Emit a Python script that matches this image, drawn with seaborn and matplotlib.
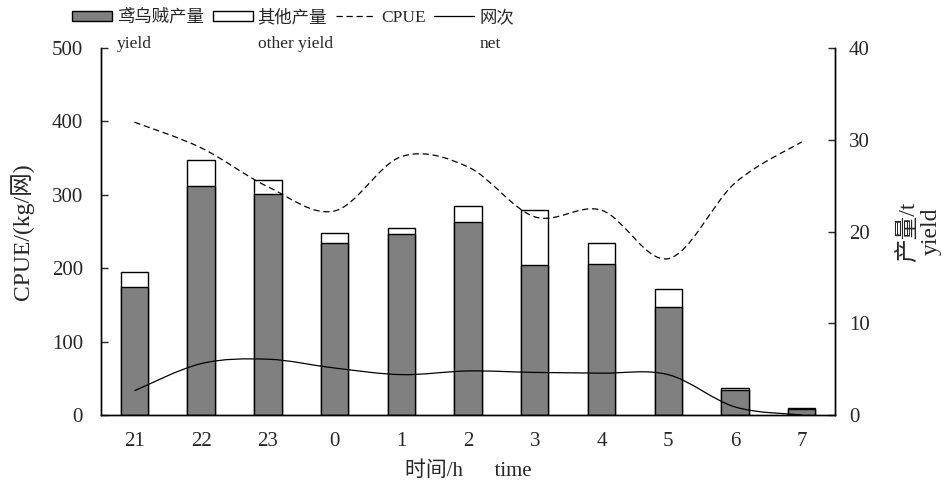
import numpy as np
import matplotlib
matplotlib.use("Agg")
import matplotlib.pyplot as plt
import seaborn as sns
from matplotlib.path import Path
from matplotlib.patches import PathPatch, Patch
from matplotlib.lines import Line2D

# data
hours = ["21", "22", "23", "0", "1", "2", "3", "4", "5", "6", "7"]
squid_yield = [14.0, 25.0, 24.1, 18.7, 19.7, 21.0, 16.3, 16.5, 11.8, 2.7, 0.65]
other_yield = [1.6, 2.8, 1.5, 1.1, 0.65, 1.8, 6.0, 2.2, 1.9, 0.2, 0.15]
cpue = [399, 364, 311, 278, 352, 338, 270, 279, 213, 316, 372]
net = [33, 70, 76, 64, 55, 60, 58, 57, 55, 11, 0]


def smooth_path(xs, ys):
    # Catmull-Rom style bezier, like a "smoothed line" in a spreadsheet chart
    pts = np.column_stack([xs, ys]).astype(float)
    n = len(pts)
    verts = [pts[0]]
    codes = [Path.MOVETO]
    for i in range(n - 1):
        p0 = pts[i - 1] if i > 0 else pts[i]
        p1 = pts[i]
        p2 = pts[i + 1]
        p3 = pts[i + 2] if i + 2 < n else pts[i + 1]
        verts += [p1 + (p2 - p0) / 6, p2 - (p3 - p1) / 6, p2]
        codes += [Path.CURVE4] * 3
    return Path(verts, codes)


sns.set_theme(style="white")
plt.rcParams["font.family"] = ["Liberation Serif", "Noto Sans CJK SC"]
plt.rcParams["axes.unicode_minus"] = False

fig = plt.figure(figsize=(9.46, 4.91), dpi=100)
ax = fig.add_axes([0.1068, 0.1548, 0.7759, 0.7474])
ax2 = ax.twinx()

totals = [s + o for s, o in zip(squid_yield, other_yield)]
sns.barplot(x=hours, y=totals, order=hours, color="white", edgecolor="black",
            linewidth=1.0, width=0.41, saturation=1, ax=ax2)
sns.barplot(x=hours, y=squid_yield, order=hours, color="#808080", edgecolor="black",
            linewidth=1.0, width=0.41, saturation=1, ax=ax2)

# lines drawn on the left (CPUE) axis, kept above the bars
ax.set_zorder(ax2.get_zorder() + 1)
ax.patch.set_visible(False)
xs = np.arange(len(hours))
ax.add_patch(PathPatch(smooth_path(xs, cpue), fill=False, edgecolor="black",
                       lw=0.9, linestyle=(0, (5, 3))))
ax.add_patch(PathPatch(smooth_path(xs, net), fill=False, edgecolor="black", lw=0.9))

ax.set_xlim(-0.5, len(hours) - 0.5)
ax.set_ylim(0, 500)
ax.set_yticks(range(0, 501, 100))
ax2.set_ylim(0, 40)
ax2.set_yticks(range(0, 41, 10))

ax.set_xticks(xs)
ax.set_xticklabels(hours)
ax.tick_params(axis="x", length=0, pad=12.5, labelsize=15)
ax.tick_params(axis="y", direction="in", length=5, width=1, pad=13, labelsize=15,
               left=True)
ax2.tick_params(axis="y", direction="in", length=5, width=1, pad=10, labelsize=15,
                right=True)
ax2.set_xlabel("")
ax2.set_ylabel("")

for a in (ax, ax2):
    a.spines["top"].set_visible(False)
    for s in ("left", "right", "bottom"):
        a.spines[s].set_color("black")
        a.spines[s].set_linewidth(1.0)
    a.grid(False)

ax.set_ylabel("CPUE/(kg/网)", fontsize=17, labelpad=13)
ax.set_xlabel("时间/h      time", fontsize=15, labelpad=7)
ax2.set_ylabel("产量/t\nyield", fontsize=17, labelpad=20, linespacing=1.05)

handles = [
    Patch(facecolor="#808080", edgecolor="black", lw=1.0),
    Patch(facecolor="white", edgecolor="black", lw=1.0),
    Line2D([], [], color="black", lw=0.9, linestyle=(0, (5, 3))),
    Line2D([], [], color="black", lw=0.9),
]
labels = ["鸢乌贼产量", "其他产量", "CPUE", "网次"]
leg = fig.legend(handles, labels, loc="center left", bbox_to_anchor=(0.076, 0.964),
                 ncol=4, frameon=False, fontsize=12.5, handlelength=2.3,
                 handleheight=0.5, handletextpad=0.3, columnspacing=0.5,
                 borderaxespad=0.0, borderpad=0.0)

# English second line under each legend label
fig.canvas.draw()
inv = fig.transFigure.inverted()
for txt, eng in zip(leg.get_texts(), ["yield", "other yield", "", "net"]):
    if not eng:
        continue
    bb = txt.get_window_extent()
    x0, _ = inv.transform((bb.x0, bb.y0))
    fig.text(x0, 1 - 44 / 491, eng, fontsize=12.5, ha="left", va="center")

fig.savefig("out.png", dpi=100)
